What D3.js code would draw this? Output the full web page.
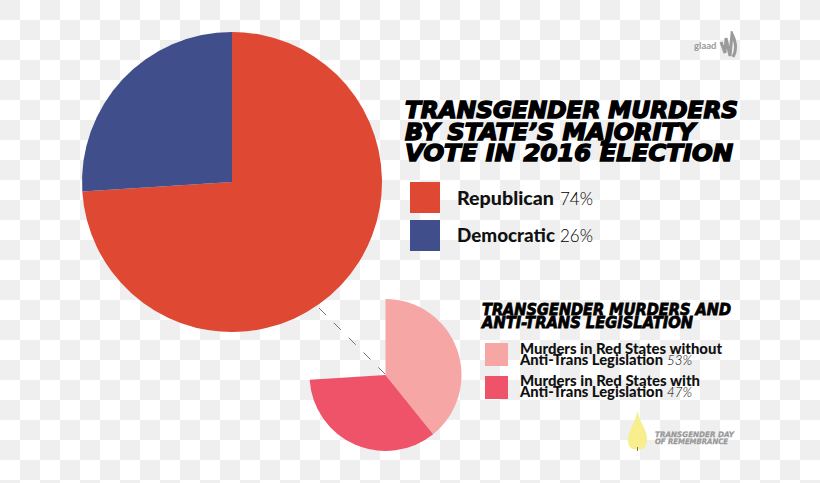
<!DOCTYPE html>
<html lang="en">
<head>
<meta charset="utf-8">
<title>Transgender murders by state's majority vote</title>
<script src="https://cdnjs.cloudflare.com/ajax/libs/d3/7.8.5/d3.min.js"></script>
<style>
  html, body { margin: 0; padding: 0; background: #fff; }
  svg { display: block; }
  .head { font-family: "DejaVu Sans"; font-weight: 700; font-style: italic; fill: #000; stroke: #000; }
  .lab { font-family: "Lato"; font-weight: 900; fill: #111; }
  .pct { font-family: "Lato"; font-weight: 300; fill: #000; }
</style>
</head>
<body>
<svg width="820" height="483"></svg>
<script>
// main pie
var voteNames = ["Republican", "Democratic"];
var voteValues = [74, 26];
var voteColors = ["#df4832", "#404f8c"];

// small pie: the red share split in two, rest stays empty
var lawNames = ["Murders in Red States without|Anti-Trans Legislation", "Murders in Red States with|Anti-Trans Legislation"];
var lawValues = [53, 47];
var lawColors = ["#f7a6a6", "#ef5369"];

var titleLines = ["TRANSGENDER MURDERS", "BY STATE\u2019S MAJORITY", "VOTE IN 2016 ELECTION"];
var subLines = ["TRANSGENDER MURDERS AND", "ANTI-TRANS LEGISLATION"];

var svg = d3.select("svg");

// checkerboard background
var defs = svg.append("defs");
var pat = defs.append("pattern")
    .attr("id", "checker")
    .attr("width", 40).attr("height", 40)
    .attr("patternUnits", "userSpaceOnUse");
pat.append("rect").attr("width", 40).attr("height", 40).attr("fill", "#fff");
pat.append("rect").attr("width", 20).attr("height", 20).attr("fill", "#efefef");
pat.append("rect").attr("x", 20).attr("y", 20).attr("width", 20).attr("height", 20).attr("fill", "#efefef");
svg.append("rect").attr("width", 820).attr("height", 483).attr("fill", "url(#checker)");

// soft edge for the two logos
defs.append("filter").attr("id", "soft")
  .append("feGaussianBlur").attr("stdDeviation", 0.6);

// main pie
var pie = d3.pie().sort(null);
var bigArc = d3.arc().innerRadius(0).outerRadius(150);

svg.append("g")
    .attr("transform", "translate(232,182)")
    .selectAll("path")
    .data(pie(voteValues))
    .enter()
    .append("path")
    .attr("d", bigArc)
    .attr("fill", function(d, i) { return voteColors[i]; });

// dashed connector between the pies
svg.append("line")
    .attr("x1", 319).attr("y1", 308)
    .attr("x2", 385).attr("y2", 374)
    .attr("stroke", "#777")
    .attr("stroke-width", 1)
    .attr("stroke-dasharray", "10 11");

// small pie only covers the republican angle
var smallPie = d3.pie().sort(null)
    .startAngle(0)
    .endAngle(2 * Math.PI * voteValues[0] / 100);
var smallArc = d3.arc().innerRadius(0).outerRadius(76);

svg.append("g")
    .attr("transform", "translate(385.5,375)")
    .selectAll("path")
    .data(smallPie(lawValues))
    .enter()
    .append("path")
    .attr("d", smallArc)
    .attr("fill", function(d, i) { return lawColors[i]; });

// title
var titleY = [118, 140, 161];
svg.selectAll(".title")
    .data(titleLines)
    .enter()
    .append("text")
    .attr("class", "head title")
    .attr("x", 405)
    .attr("y", function(d, i) { return titleY[i]; })
    .attr("font-size", 23)
    .attr("stroke-width", 1.5)
    .attr("textLength", function(d, i) { return [333, 290, 328][i]; })
    .attr("lengthAdjust", "spacingAndGlyphs")
    .text(function(d) { return d; });

// main legend
var legendY = [182, 220];
var legendBase = [205, 242];
var legend = svg.selectAll(".vote")
    .data(voteNames)
    .enter()
    .append("g")
    .attr("class", "vote");
legend.append("rect")
    .attr("x", 410)
    .attr("y", function(d, i) { return legendY[i]; })
    .attr("width", 30).attr("height", 31)
    .attr("fill", function(d, i) { return voteColors[i]; });
legend.append("text")
    .attr("class", "lab")
    .attr("x", 457)
    .attr("y", function(d, i) { return legendBase[i]; })
    .attr("font-size", 18.5)
    .attr("textLength", function(d, i) { return [97, 98][i]; })
    .attr("lengthAdjust", "spacingAndGlyphs")
    .text(function(d) { return d; });
legend.append("text")
    .attr("class", "pct")
    .attr("x", 560)
    .attr("y", function(d, i) { return legendBase[i]; })
    .attr("font-size", 18.5)
    .attr("textLength", 33)
    .attr("lengthAdjust", "spacingAndGlyphs")
    .text(function(d, i) { return voteValues[i] + "%"; });

// second title
var subY = [315, 328];
svg.selectAll(".sub")
    .data(subLines)
    .enter()
    .append("text")
    .attr("class", "head sub")
    .attr("x", 482)
    .attr("y", function(d, i) { return subY[i]; })
    .attr("font-size", 15)
    .attr("stroke-width", 0.8)
    .attr("textLength", function(d, i) { return [249, 211][i]; })
    .attr("lengthAdjust", "spacingAndGlyphs")
    .text(function(d) { return d; });

// second legend
var lawY = [343, 376];
var lawBase = [[354, 364.5], [386, 397]];
var lawWidth = [[202, 143], [180, 143]];
lawNames.forEach(function(name, i) {
  var parts = name.split("|");
  svg.append("rect")
    .attr("x", 485).attr("y", lawY[i])
    .attr("width", 23).attr("height", 23)
    .attr("fill", lawColors[i]);
  parts.forEach(function(p, j) {
    svg.append("text")
      .attr("class", "lab")
      .attr("x", 520)
      .attr("y", lawBase[i][j])
      .attr("font-size", 14.5)
      .attr("textLength", lawWidth[i][j])
      .attr("lengthAdjust", "spacingAndGlyphs")
      .text(p);
  });
  svg.append("text")
    .attr("class", "pct")
    .attr("x", 667)
    .attr("y", lawBase[i][1])
    .attr("font-size", 14.5)
    .attr("font-style", "italic")
    .attr("textLength", 25)
    .attr("lengthAdjust", "spacingAndGlyphs")
    .text(lawValues[i] + "%");
});

// glaad logo
svg.append("text")
  .attr("x", 694).attr("y", 48.5)
  .attr("font-family", "Lato").attr("font-weight", 700)
  .attr("font-size", 9.5).attr("fill", "#999")
  .text("glaad");
svg.append("path")
  .attr("d", "M721,42 L725,53 L726,38 L730,56 L732,34 C736,42 737,50 733,57")
  .attr("fill", "none")
  .attr("stroke", "#9a9a9a")
  .attr("stroke-width", 3)
  .attr("filter", "url(#soft)");

// candle logo
svg.append("path")
  .attr("d", "M637.5,411 C640,424 648,430 647,441 C646,448 642,449.5 637.5,449.5 C633,449.5 628,448 628,441 C628,430 635,424 637.5,411 Z")
  .attr("fill", "#f8ee8e")
  .attr("filter", "url(#soft)");
svg.append("line")
  .attr("x1", 637.5).attr("y1", 447).attr("x2", 637.5).attr("y2", 451)
  .attr("stroke", "#777").attr("stroke-width", 1);
["TRANSGENDER DAY", "OF REMEMBRANCE"].forEach(function(t, i) {
  svg.append("text")
    .attr("class", "head")
    .attr("x", 655)
    .attr("y", [437, 443.5][i])
    .attr("font-size", 7.5)
    .attr("stroke-width", 0.3)
    .attr("textLength", [79, 73][i])
    .attr("lengthAdjust", "spacingAndGlyphs")
    .style("fill", "#999").style("stroke", "#999")
    .text(t);
});
</script>
</body>
</html>
